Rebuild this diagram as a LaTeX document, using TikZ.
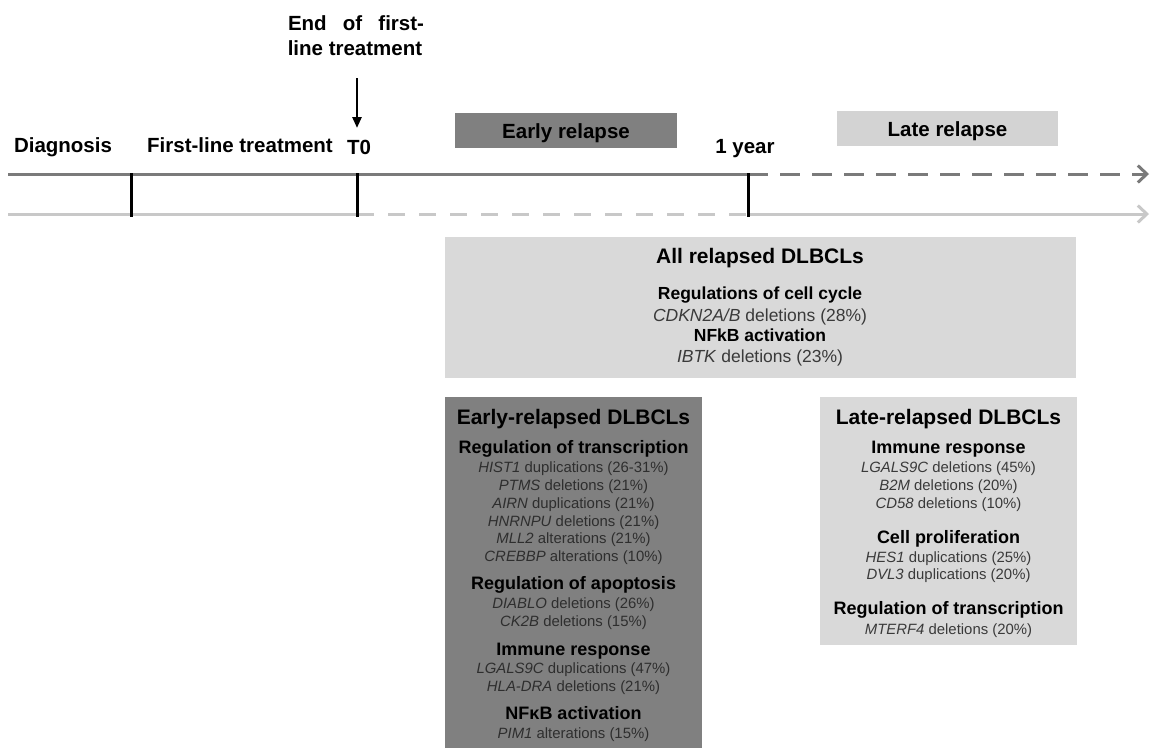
\documentclass[tikz,border=0pt]{standalone}
\usepackage{fontspec}
\setmainfont{Liberation Sans}
\usetikzlibrary{arrows.meta}
\definecolor{darkbox}{HTML}{808080}
\definecolor{lightbox}{HTML}{D9D9D9}
\definecolor{latetop}{HTML}{D3D3D3}
\definecolor{topline}{HTML}{7A7A7A}
\definecolor{botline}{HTML}{C8C8C8}
\definecolor{itemgray}{HTML}{2E2E2E}
\definecolor{itemgrayA}{HTML}{3A3A3A}
\newcommand{\myfs}[1]{\fontsize{#1}{#1}\selectfont}
\begin{document}
\begin{tikzpicture}[x=1pt,y=-1pt,
  lab/.style={font=\myfs{20.5}\bfseries, anchor=base, inner sep=0pt},
  ttl/.style={font=\myfs{21}\bfseries, anchor=base, inner sep=0pt},
  hd/.style={font=\myfs{18}\bfseries, anchor=base, inner sep=0pt},
  itm/.style={font=\myfs{14.9}, text=itemgray, anchor=base, inner sep=0pt},
  itmL/.style={font=\myfs{14.9}, text=itemgrayA, anchor=base, inner sep=0pt},
  hdA/.style={font=\myfs{17.5}\bfseries, anchor=base, inner sep=0pt},
  itmA/.style={font=\myfs{17.5}, text=itemgrayA, anchor=base, inner sep=0pt},
  tickline/.style={line width=3pt, black},
  topl/.style={line width=3pt, topline},
  botl/.style={line width=3pt, botline},
  tip/.style={-{Straight Barb[length=9pt,width=17pt,line width=3pt]}},
]
\useasboundingbox (0,0) rectangle (1151,748);
\fill[white] (0,0) rectangle (1151,748);

% ---------- top labels ----------
\node[lab] (end1) at (356,30) {\makebox[136pt][s]{End of first-}};
\node[lab] (end2) at (355,55) {line treatment};
\coordinate (arrtop) at (357,78);
\coordinate (arrbot) at (357,128);
\draw[line width=2.5pt, -{Triangle[length=11pt,width=9pt]}] (arrtop) -- (arrbot);

\node[lab] (diag) at (63,152) {Diagnosis};
\node[lab] (first) at (240,152) {First-line treatment};
\node[lab] (tzero) at (359,154) {T0};
\node[lab] (oneyear) at (745,153) {1 year};

\node[fill=darkbox, minimum width=222pt, minimum height=35pt, inner sep=0pt] (earlybar) at (566,130.5) {};
\node[lab] (earlytxt) at (566,138) {Early relapse};
\node[fill=latetop, minimum width=221pt, minimum height=35pt, inner sep=0pt] (latebar) at (947.5,128.5) {};
\node[lab] (latetxt) at (947.5,136) {Late relapse};

% ---------- timeline ----------
\coordinate (ta) at (8,174);
\coordinate (t1) at (748,174);
\coordinate (te) at (1149,174);
\coordinate (ba) at (8,214);
\coordinate (b0) at (357,214);
\coordinate (b1) at (748,214);
\coordinate (be) at (1149,214);
\draw[topl] (ta) -- (t1);
\draw[topl, tip, dash pattern=on 20pt off 12pt] (t1) -- (te);
\draw[botl] (ba) -- (b0);
\draw[botl, dash pattern=on 17pt off 14pt] (b0) -- (b1);
\draw[botl, tip] (b1) -- (be);

\coordinate (k1t) at (131,173);
\coordinate (k1b) at (131,217);
\coordinate (k2t) at (357,173);
\coordinate (k2b) at (357,217);
\coordinate (k3t) at (748,173);
\coordinate (k3b) at (748,217);
\draw[tickline] (k1t) -- (k1b);
\draw[tickline] (k2t) -- (k2b);
\draw[tickline] (k3t) -- (k3b);

% ---------- all relapsed ----------
\fill[lightbox] (445,237) rectangle (1076,378);
\node[ttl] (allt) at (760,263.5) {All relapsed DLBCLs};
\node[hdA] (allh1) at (760,299.5) {Regulations of cell cycle};
\node[itmA] (alli1) at (760,321) {\textit{CDKN2A/B} deletions (28\%)};
\node[hdA] (allh2) at (760,341) {NFkB activation};
\node[itmA] (alli2) at (760,362) {\textit{IBTK} deletions (23\%)};

% ---------- early relapsed ----------
\fill[darkbox] (445,397) rectangle (702,748);
\node[ttl] (et) at (573.5,424.5) {Early-relapsed DLBCLs};
\node[hd] (eh1) at (573.5,453) {Regulation of transcription};
\node[itm] (ei1) at (573.5,472.3) {\textit{HIST1} duplications (26-31\%)};
\node[itm] (ei2) at (573.5,490.3) {\textit{PTMS} deletions (21\%)};
\node[itm] (ei3) at (573.5,508) {\textit{AIRN} duplications (21\%)};
\node[itm] (ei4) at (573.5,526) {\textit{HNRNPU} deletions (21\%)};
\node[itm] (ei5) at (573.5,543.5) {\textit{MLL2} alterations (21\%)};
\node[itm] (ei6) at (573.5,561.5) {\textit{CREBBP} alterations (10\%)};
\node[hd] (eh2) at (573.5,589.5) {Regulation of apoptosis};
\node[itm] (ei7) at (573.5,608.5) {\textit{DIABLO} deletions (26\%)};
\node[itm] (ei8) at (573.5,626) {\textit{CK2B} deletions (15\%)};
\node[hd] (eh3) at (573.5,655.5) {Immune response};
\node[itm] (ei9) at (573.5,673.5) {\textit{LGALS9C} duplications (47\%)};
\node[itm] (ei10) at (573.5,691.5) {\textit{HLA-DRA} deletions (21\%)};
\node[hd] (eh4) at (573.5,719.5) {NFκB activation};
\node[itm] (ei11) at (573.5,738.5) {\textit{PIM1} alterations (15\%)};

% ---------- late relapsed ----------
\fill[lightbox] (820,397) rectangle (1077,645);
\node[ttl] (lt) at (948.5,424.5) {Late-relapsed DLBCLs};
\node[hd] (lh1) at (948.5,453.5) {Immune response};
\node[itmL] (li1) at (948.5,472.3) {\textit{LGALS9C} deletions (45\%)};
\node[itmL] (li2) at (948.5,490.3) {\textit{B2M} deletions (20\%)};
\node[itmL] (li3) at (948.5,508.3) {\textit{CD58} deletions (10\%)};
\node[hd] (lh2) at (948.5,543.5) {Cell proliferation};
\node[itmL] (li4) at (948.5,562.3) {\textit{HES1} duplications (25\%)};
\node[itmL] (li5) at (948.5,579.3) {\textit{DVL3} duplications (20\%)};
\node[hd] (lh3) at (948.5,614.5) {Regulation of transcription};
\node[itmL] (li6) at (948.5,634.3) {\textit{MTERF4} deletions (20\%)};
\end{tikzpicture}
\end{document}
